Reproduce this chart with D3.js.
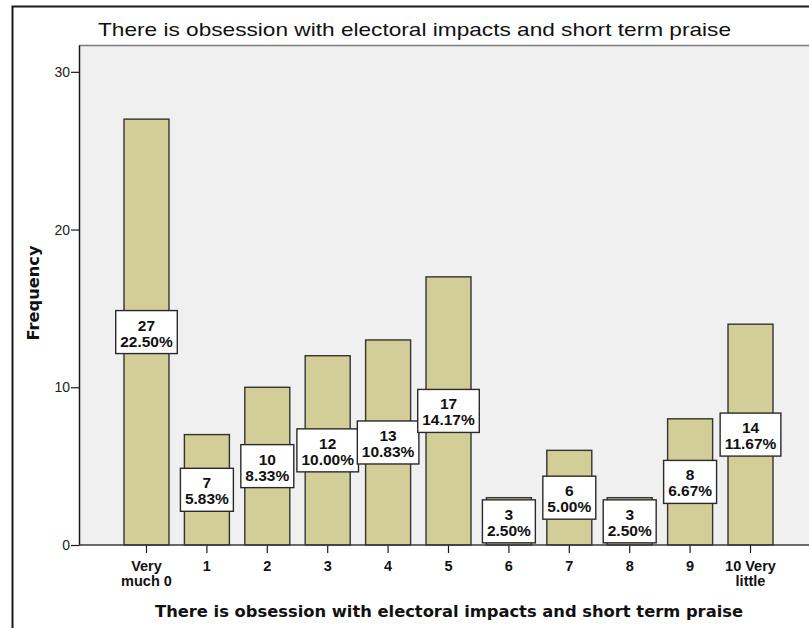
<!DOCTYPE html>
<html>
<head>
<meta charset="utf-8">
<script src="https://cdn.jsdelivr.net/npm/d3@7/dist/d3.min.js"></script>
<style>
  html, body { margin: 0; padding: 0; background: #ffffff; }
  svg { display: block; }
</style>
</head>
<body>
<svg id="chart" width="809" height="628"></svg>
<script>
// Frequency distribution of answers on a 0–10 scale
const categories = ["Very\nmuch 0", "1", "2", "3", "4", "5", "6", "7", "8", "9", "10 Very\nlittle"];
const counts = [27, 7, 10, 12, 13, 17, 3, 6, 3, 8, 14];
const yTicks = [0, 10, 20, 30];
const chartTitle = "There is obsession with electoral impacts and short term praise";
const xTitle = "There is obsession with electoral impacts and short term praise";
const yTitle = "Frequency";

const total = d3.sum(counts);
const pctFmt = d3.format(".2f");

const svg = d3.select("#chart");
const W = 809, H = 628;
const plot = { left: 79, top: 45, right: 818, bottom: 545 };

// outer frame (top and left edges)
svg.append("path")
  .attr("d", `M12.5,${H} L12.5,6.5 L${W},6.5`)
  .attr("fill", "none")
  .attr("stroke", "#1a1a1a")
  .attr("stroke-width", 2);

// plot background
svg.append("rect")
  .attr("x", plot.left).attr("y", plot.top)
  .attr("width", plot.right - plot.left).attr("height", plot.bottom - plot.top)
  .attr("fill", "#f0f0f0");
svg.append("line")
  .attr("x1", plot.left).attr("x2", W)
  .attr("y1", plot.top + 0.5).attr("y2", plot.top + 0.5)
  .attr("stroke", "#7a7a7a").attr("stroke-width", 1.5);

const x = d3.scaleBand()
  .domain(categories)
  .range([plot.left, plot.right])
  .paddingInner(0.255)
  .paddingOuter(0.745);

const y = d3.scaleLinear()
  .domain([0, 31.7])
  .range([plot.bottom, plot.top]);

// bars
svg.append("g").selectAll("rect")
  .data(counts)
  .join("rect")
  .attr("x", (d, i) => x(categories[i]))
  .attr("y", d => y(d))
  .attr("width", x.bandwidth())
  .attr("height", d => y(0) - y(d))
  .attr("fill", "#d3ce97")
  .attr("stroke", "#333")
  .attr("stroke-width", 1.4);

// y axis
const yAxis = svg.append("g")
  .attr("transform", `translate(${plot.left},0)`)
  .call(d3.axisLeft(y).tickValues(yTicks).tickSize(8).tickPadding(1).tickSizeOuter(0));
yAxis.select(".domain").attr("stroke", "#1a1a1a").attr("stroke-width", 1.5);
yAxis.selectAll(".tick line").attr("stroke", "#1a1a1a").attr("stroke-width", 1.2);
yAxis.selectAll(".tick text")
  .attr("font-family", "'Liberation Sans', Arial, sans-serif")
  .attr("font-size", 14)
  .attr("fill", "#222");

// x axis
const xAxis = svg.append("g")
  .attr("transform", `translate(0,${plot.bottom})`)
  .call(d3.axisBottom(x).tickSize(8).tickSizeOuter(0));
xAxis.select(".domain").remove();
xAxis.append("line")
  .attr("x1", plot.left).attr("x2", W)
  .attr("y1", 0).attr("y2", 0)
  .attr("stroke", "#3a3a3a").attr("stroke-width", 1.5);
xAxis.selectAll(".tick line").attr("stroke", "#1a1a1a").attr("stroke-width", 1.2);
xAxis.selectAll(".tick text").each(function (d) {
  const t = d3.select(this);
  const lines = d.split("\n");
  t.text(null)
    .attr("y", 0)
    .attr("dy", null)
    .attr("font-family", "'Liberation Sans', Arial, sans-serif")
    .attr("font-size", 14.5)
    .attr("font-weight", "bold")
    .attr("fill", "#111");
  lines.forEach((ln, k) => {
    t.append("tspan").attr("x", 0).attr("y", 26 + k * 14.5).text(ln);
  });
});

// value labels: count and percent in a white box at half bar height
const labelG = svg.append("g")
  .attr("font-family", "'Liberation Sans', Arial, sans-serif")
  .attr("font-size", 15.5)
  .attr("font-weight", "bold")
  .attr("fill", "#111");

counts.forEach((v, i) => {
  const cx = x(categories[i]) + x.bandwidth() / 2;
  const cy = y(v / 2);
  const g = labelG.append("g");
  const box = g.append("rect");
  const t1 = g.append("text").attr("x", cx).attr("y", cy - 1.5).attr("text-anchor", "middle").text(v);
  const t2 = g.append("text").attr("x", cx).attr("y", cy + 14.5).attr("text-anchor", "middle")
    .attr("textLength", null).text(pctFmt(v / total * 100) + "%");
  const w = Math.max(t1.node().getComputedTextLength(), t2.node().getComputedTextLength()) + 9;
  box.attr("x", cx - w / 2).attr("y", cy - 21.5)
    .attr("width", w).attr("height", 43)
    .attr("fill", "#ffffff")
    .attr("stroke", "#2a2a2a")
    .attr("stroke-width", 1.4);
});

// titles
svg.append("text")
  .attr("x", 414.5).attr("y", 36)
  .attr("text-anchor", "middle")
  .attr("font-family", "'Liberation Sans', Arial, sans-serif")
  .attr("font-size", 19)
  .attr("fill", "#111")
  .attr("textLength", 633)
  .attr("lengthAdjust", "spacingAndGlyphs")
  .text(chartTitle);

svg.append("text")
  .attr("x", 449).attr("y", 617)
  .attr("text-anchor", "middle")
  .attr("font-family", "'DejaVu Sans', sans-serif")
  .attr("font-size", 15.5)
  .attr("font-weight", "bold")
  .attr("fill", "#111")
  .attr("textLength", 588)
  .attr("lengthAdjust", "spacingAndGlyphs")
  .text(xTitle);

svg.append("text")
  .attr("transform", "translate(39,293) rotate(-90)")
  .attr("text-anchor", "middle")
  .attr("font-family", "'DejaVu Sans', sans-serif")
  .attr("font-size", 15.5)
  .attr("font-weight", "bold")
  .attr("fill", "#111")
  .attr("textLength", 95)
  .attr("lengthAdjust", "spacingAndGlyphs")
  .text(yTitle);
</script>
</body>
</html>
